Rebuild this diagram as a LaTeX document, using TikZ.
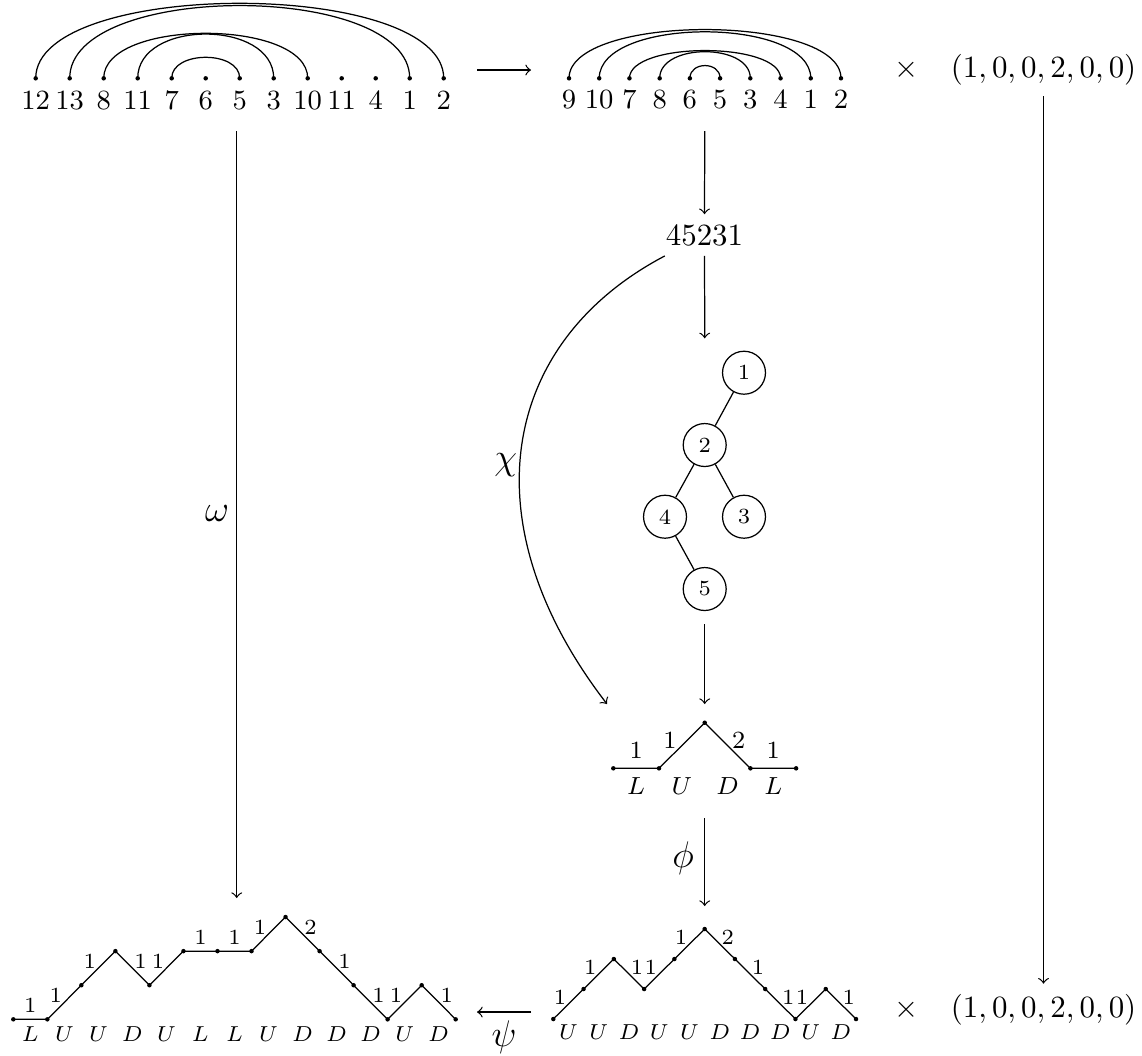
\documentclass[tikz,border=0pt]{standalone}
\newcommand{\chordarc}[3]{\draw (#1.center) .. controls ([yshift=#3*0.3236pt]#1.center) and ([yshift=#3*0.3236pt]#2.center) .. (#2.center);}
\begin{document}
\begin{tikzpicture}[x=0.3236pt,y=-0.3236pt,
  dot/.style={circle,fill=black,inner sep=0pt,minimum size=1.45pt},
  toplbl/.style={anchor=base,inner sep=0pt,font=\small},
  tnode/.style={circle,draw,minimum size=13.9pt,inner sep=0pt,font=\scriptsize},
  stepnum/.style={font=\scriptsize,inner sep=0pt},
  midnum/.style={font=\footnotesize,inner sep=0pt},
  uB/.style={stepnum,midway,shift={(-8.5,-7)}},
  dB/.style={stepnum,midway,shift={(8,-6.5)}},
  lB/.style={stepnum,midway,shift={(0,-14)}},
  uM/.style={midnum,midway,shift={(-12,-5.5)}},
  dM/.style={midnum,midway,shift={(11,-5.5)}},
  lM/.style={midnum,midway,shift={(0,-18)}},
  letter/.style={font=\scriptsize,inner sep=0pt},
  midletter/.style={font=\footnotesize,inner sep=0pt},
  glabel/.style={font=\large,inner sep=0pt}
]
\useasboundingbox (0,0) rectangle (1142,1055);

% top-left arc diagram
\foreach \l [count=\i from 0] in {12,13,8,11,7,6,5,3,10,11,4,1,2} {
  \node[dot] (L\i) at ({35.7+34*\i},78.3) {};
  \node[toplbl] (Ll\i) at ({35.7+34*\i},109.3) {$\l$};
}
\chordarc{L0}{L12}{100}
\chordarc{L1}{L11}{97}
\chordarc{L2}{L8}{60}
\chordarc{L3}{L7}{59}
\chordarc{L4}{L6}{28}

% top-right arc diagram
\foreach \l [count=\i from 0] in {9,10,7,8,6,5,3,4,1,2} {
  \node[dot] (R\i) at ({569+30.22*\i},78.3) {};
  \node[toplbl] (Rl\i) at ({569+30.22*\i},108.5) {$\l$};
}
\chordarc{R0}{R9}{65}
\chordarc{R1}{R8}{62}
\chordarc{R2}{R7}{37}
\chordarc{R3}{R6}{35.5}
\chordarc{R4}{R5}{17}

% top arrow, times, tuple
\coordinate (ha) at (477,70);
\coordinate (hb) at (531,70);
\draw[->] (ha) -- (hb);
\node (timesT) at (906.7,70) {$\times$};
\node (tupT) at (1043.5,70) {$(1,0,0,2,0,0)$};

% 45231
\node[anchor=base] (n45231) at (704.5,245) {$45231$};
\coordinate (rS) at (704.7,131);
\draw[->] (rS) -- (n45231);
\coordinate (c45) at (704.7,338.3);
\draw[->] (n45231) -- (c45);

% tree
\node[tnode] (t1) at (744,372.7) {1};
\node[tnode] (t2) at (704.7,445) {2};
\node[tnode] (t4) at (665,516.7) {4};
\node[tnode] (t3) at (744,516.7) {3};
\node[tnode] (t5) at (704.7,589) {5};
\draw (t1) -- (t2);
\draw (t2) -- (t4);
\draw (t2) -- (t3);
\draw (t4) -- (t5);

% chi curve
\coordinate (chiE) at (607,704);
\draw[->] (n45231) .. controls (501,342) and (467,522) .. (chiE);
\node[glabel] (chi) at (505.8,465) {$\chi$};

% middle path
\coordinate (mTop) at (704.7,704);
\draw[->,shorten <=4.2pt] (t5) -- (mTop);
\node[dot] (m0) at (613.3,768.3) {};
\node[dot] (m1) at (659.0,768.3) {};
\node[dot] (m2) at (704.7,722.7) {};
\node[dot] (m3) at (750.4,768.3) {};
\node[dot] (m4) at (796.1,768.3) {};
\draw (m0.center) -- node[lM]{1} (m1.center) -- node[uM]{1} (m2.center) -- node[dM]{2} (m3.center) -- node[lM]{1} (m4.center);
\foreach \l [count=\i from 0] in {L,U,D,L}
  \node[midletter] (ml\i) at ({636.15+45.7*\i},786) {$\l$};

% phi arrow
\coordinate (phS) at (704.7,818);
\coordinate (phE) at (704.7,906);
\draw[->] (phS) -- (phE);
\node[glabel] (phi) at (683,858) {$\phi$};

% bottom-right path
\foreach \h [count=\i from 0] in {0,1,2,1,2,3,2,1,0,1,0}
  \node[dot] (r\i) at ({553.3+30.27*\i},{1019-30*\h}) {};
\draw (r0.center) -- node[uB]{1} (r1.center) -- node[uB]{1} (r2.center) -- node[dB]{1} (r3.center) -- node[uB]{1} (r4.center) -- node[uB]{1} (r5.center) -- node[dB]{2} (r6.center) -- node[dB]{1} (r7.center) -- node[dB]{1} (r8.center) -- node[uB]{1} (r9.center) -- node[dB]{1} (r10.center);
\foreach \l [count=\i from 0] in {U,U,D,U,U,D,D,D,U,D}
  \node[letter] (rl\i) at ({568.4+30.27*\i},1032) {$\l$};
\node (timesB) at (906.7,1010) {$\times$};
\node (tupB) at (1043.5,1010) {$(1,0,0,2,0,0)$};
\draw[->] (tupT) -- (tupB);

% psi arrow
\coordinate (psS) at (531,1012);
\coordinate (psE) at (477,1012);
\draw[->] (psS) -- (psE);
\node[glabel] (psi) at (504,1037) {$\psi$};

% omega arrow
\coordinate (wS) at (236.7,131);
\coordinate (wE) at (236.7,898);
\draw[->] (wS) -- (wE);
\node[glabel] (omega) at (217,513) {$\omega$};

% bottom-left path
\foreach \h [count=\i from 0] in {0,0,1,2,1,2,2,2,3,2,1,0,1,0}
  \node[dot] (b\i) at ({13.3+34.03*\i},{1019.3-34.1*\h}) {};
\draw (b0.center) -- node[lB]{1} (b1.center) -- node[uB]{1} (b2.center) -- node[uB]{1} (b3.center) -- node[dB]{1} (b4.center) -- node[uB]{1} (b5.center) -- node[lB]{1} (b6.center) -- node[lB]{1} (b7.center) -- node[uB]{1} (b8.center) -- node[dB]{2} (b9.center) -- node[dB]{1} (b10.center) -- node[dB]{1} (b11.center) -- node[uB]{1} (b12.center) -- node[dB]{1} (b13.center);
\foreach \l [count=\i from 0] in {L,U,U,D,U,L,L,U,D,D,D,U,D}
  \node[letter] (bl\i) at ({30.3+34.03*\i},1034) {$\l$};
\end{tikzpicture}
\end{document}
